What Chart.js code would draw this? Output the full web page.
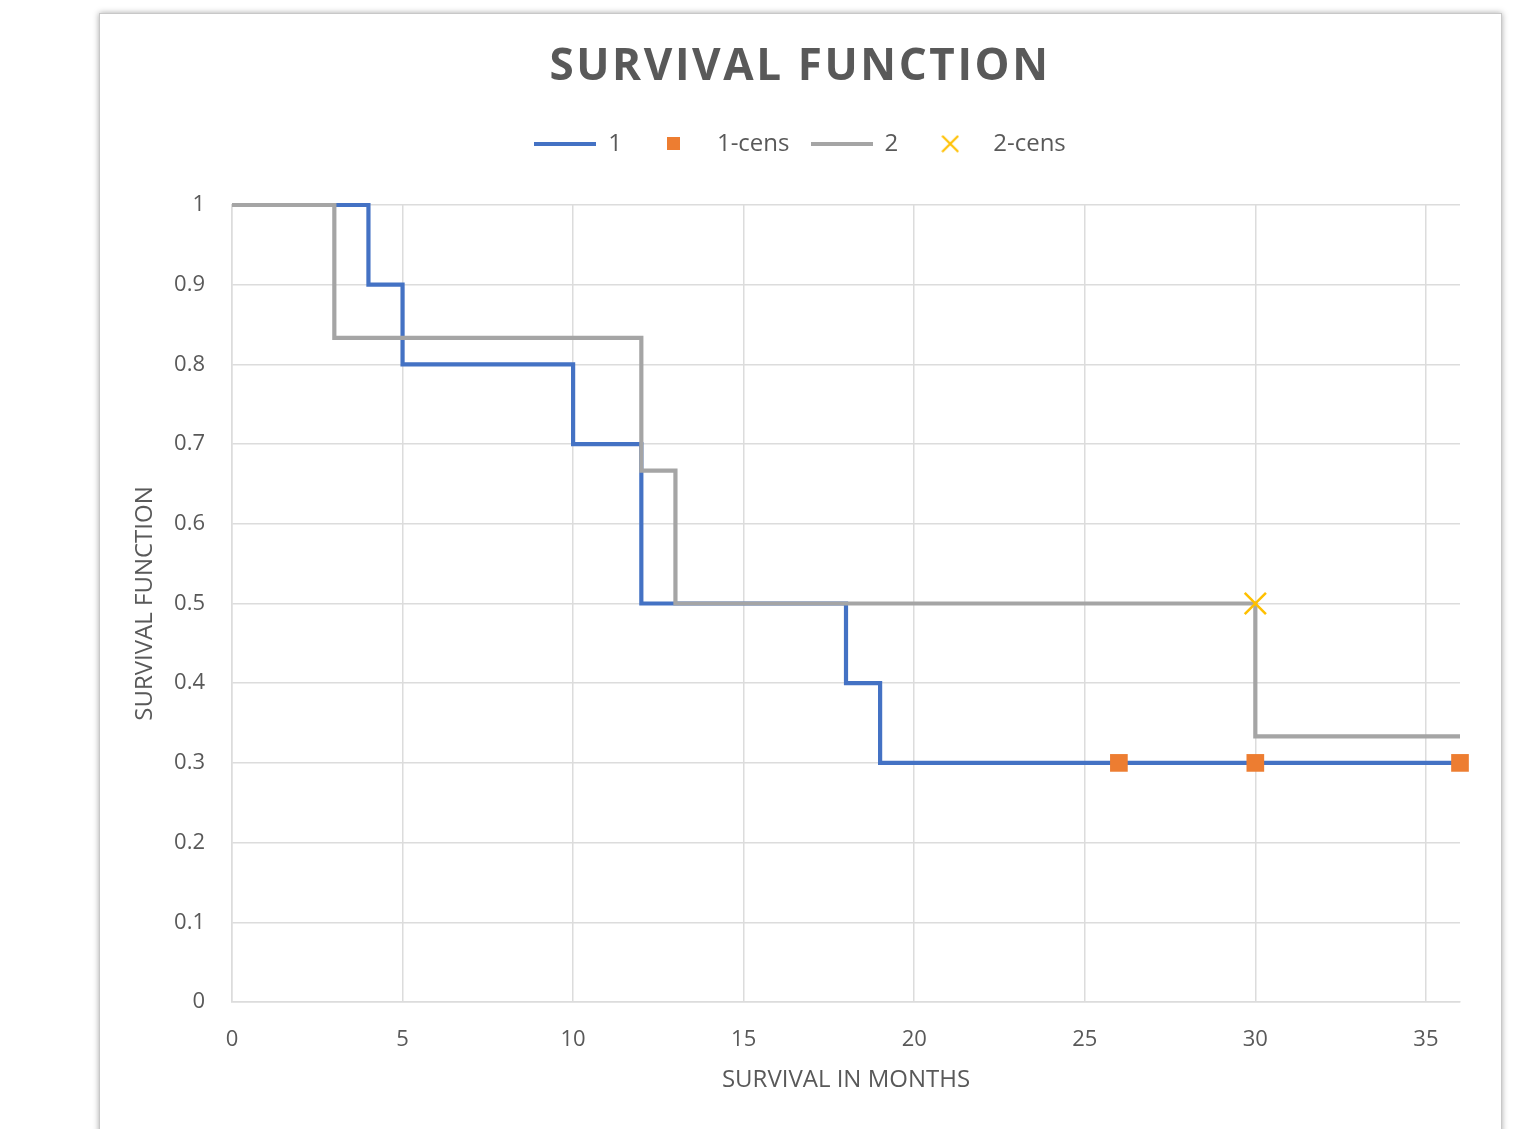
<!DOCTYPE html>
<html>
<head>
<meta charset="utf-8">
<script src="https://cdn.jsdelivr.net/npm/chart.js@4"></script>
<style>
  html, body { margin: 0; padding: 0; background: #ffffff; width: 1528px; height: 1129px; overflow: hidden; }
  #card { position: absolute; left: 99px; top: 13px; width: 1401px; height: 1200px; background: #fff;
          border: 1px solid #c8c8c8; box-shadow: 0 0 6px rgba(0,0,0,0.35); }
  #wrap { position: absolute; left: 0; top: 0; width: 1528px; height: 1129px; }
</style>
</head>
<body>
<div id="card"></div>
<div id="wrap"><canvas id="c" width="1528" height="1129"></canvas></div>
<script>
// ---- data ----
const group1Times = [0, 4, 5, 10, 12, 18, 19, 36];
const group1Surv  = [1, 0.9, 0.8, 0.7, 0.5, 0.4, 0.3, 0.3];
const group2Times = [0, 3, 12, 13, 30, 36];
const group2Surv  = [1, 0.8333, 0.6667, 0.5, 0.3333, 0.3333];
const cens1Times  = [26, 30, 36];
const cens1Surv   = [0.3, 0.3, 0.3];
const cens2Times  = [30];
const cens2Surv   = [0.5];
const seriesNames = ['1', '1-cens', '2', '2-cens'];
const chartTitle  = 'SURVIVAL FUNCTION';
const xTitle      = 'SURVIVAL IN MONTHS';
const yTitle      = 'SURVIVAL FUNCTION';

const pts = (xs, ys) => xs.map((x, i) => ({x: x, y: ys[i]}));

const FONT = "'Open Sans', 'Noto Sans', sans-serif";
const TXT = '#595959';
const BLUE = '#4472C4', ORANGE = '#ED7D31', GRAY = '#A5A5A5', YELLOW = '#FFC000';

// legend symbols
function lineIcon(color) {
  const c = document.createElement('canvas'); c.width = 62; c.height = 4;
  const g = c.getContext('2d'); g.fillStyle = color; g.fillRect(0, 0, 62, 4); return c;
}
function squareIcon(color) {
  const c = document.createElement('canvas'); c.width = 13; c.height = 13;
  const g = c.getContext('2d'); g.fillStyle = color; g.fillRect(0, 0, 13, 13); return c;
}
function crossIcon(color) {
  const c = document.createElement('canvas'); c.width = 18; c.height = 18;
  const g = c.getContext('2d'); g.strokeStyle = color; g.lineWidth = 2.2;
  g.beginPath(); g.moveTo(1, 1); g.lineTo(17, 17); g.moveTo(17, 1); g.lineTo(1, 17); g.stroke(); return c;
}
const legendIcons = [lineIcon(BLUE), squareIcon(ORANGE), lineIcon(GRAY), crossIcon(YELLOW)];

const chart = new Chart(document.getElementById('c'), {
  type: 'scatter',
  data: {
    datasets: [
      { label: seriesNames[0], data: pts(group1Times, group1Surv), showLine: true, stepped: true,
        borderColor: BLUE, backgroundColor: BLUE, borderWidth: 4.2, borderJoinStyle: 'miter',
        pointRadius: 0, order: 3, clip: false },
      { label: seriesNames[1], data: pts(cens1Times, cens1Surv), showLine: false,
        pointStyle: 'rect', pointRadius: 12.5, borderWidth: 0, borderColor: ORANGE,
        backgroundColor: ORANGE, order: 0, clip: false },
      { label: seriesNames[2], data: pts(group2Times, group2Surv), showLine: true, stepped: true,
        borderColor: GRAY, backgroundColor: GRAY, borderWidth: 4.2, borderJoinStyle: 'miter',
        pointRadius: 0, order: 2, clip: false },
      { label: seriesNames[3], data: pts(cens2Times, cens2Surv), showLine: false,
        pointStyle: 'crossRot', pointRadius: 15, borderWidth: 2.5,
        borderColor: YELLOW, backgroundColor: YELLOW, order: 1, clip: false }
    ]
  },
  options: {
    responsive: false,
    animation: false,
    layout: { padding: { left: 100, right: 28, top: 0, bottom: 0 } },
    plugins: {
      tooltip: { enabled: false },
      title: {
        display: true, text: chartTitle, color: TXT,
        font: { family: FONT, size: 44, weight: 'bold' },
        padding: { top: 41, bottom: 17 }
      },
      subtitle: {
        display: true, text: ' ', weight: 500, font: { size: 1 }, padding: { top: 0, bottom: 38 }
      },
      legend: {
        display: true, position: 'top',
        labels: {
          usePointStyle: true, pointStyleWidth: 62, padding: 21, color: TXT,
          font: { family: FONT, size: 24 },
          sort: (a, b) => a.datasetIndex - b.datasetIndex,
          generateLabels: (chart) => chart.data.datasets.map((ds, i) => ({
            text: ds.label, datasetIndex: i, fillStyle: ds.backgroundColor,
            strokeStyle: ds.borderColor, lineWidth: 0, pointStyle: legendIcons[i],
            fontColor: TXT, hidden: false
          }))
        }
      }
    },
    scales: {
      x: {
        type: 'linear', min: 0, max: 36,
        afterFit: (s) => { s.height = 127; },
        ticks: { stepSize: 5, includeBounds: false, color: TXT, padding: 25,
                 font: { family: FONT, size: 22 } },
        grid: { color: '#dcdcdc', lineWidth: 1.5, drawTicks: false },
        border: { display: true, color: '#dcdcdc', width: 1.5 },
        title: { display: true, text: xTitle, color: TXT, font: { family: FONT, size: 24 },
                 padding: { top: 0, bottom: 34 } }
      },
      y: {
        type: 'linear', min: 0, max: 1,
        afterFit: (s) => { s.width = 132; },
        ticks: { stepSize: 0.1, color: TXT, padding: 27, font: { family: FONT, size: 22 },
                 callback: (v) => String(Number(v.toFixed(1))) },
        grid: { color: '#dcdcdc', lineWidth: 1.5, drawTicks: false },
        border: { display: true, color: '#dcdcdc', width: 1.5 },
        title: { display: true, text: yTitle, color: TXT, font: { family: FONT, size: 24 },
                 padding: { top: 31, bottom: 0 } }
      },
      yRight: {
        type: 'linear', position: 'right', min: 0, max: 1,
        afterFit: (s) => { s.width = 40; },
        ticks: { display: false }, grid: { display: false }, border: { display: false }
      }
    }
  }
});

// letter-spaced chart title (as in the original)
if (chart.titleBlock) {
  const tb = chart.titleBlock;
  const origDraw = tb.draw.bind(tb);
  tb.draw = function () {
    const ctx = chart.ctx;
    ctx.save();
    ctx.letterSpacing = '2.6px';
    origDraw();
    ctx.restore();
  };
  chart.draw();
}
</script>
</body>
</html>
